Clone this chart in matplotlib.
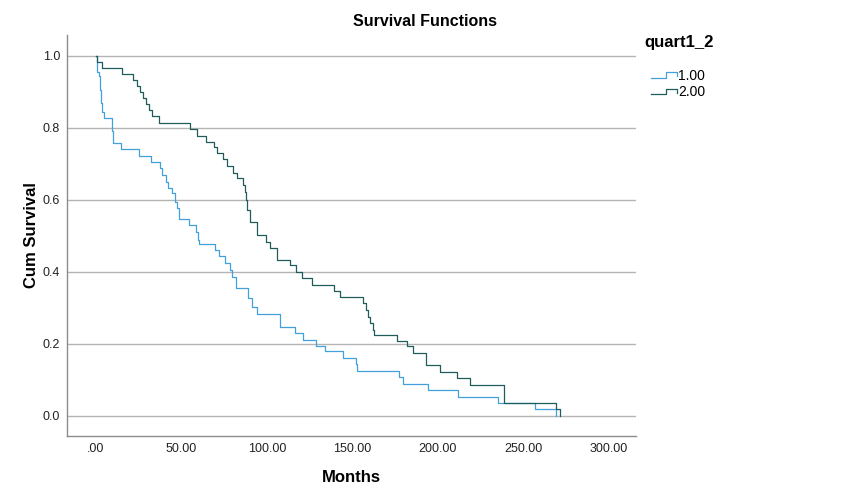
import matplotlib
matplotlib.use("Agg")
import matplotlib.pyplot as plt
from matplotlib.legend_handler import HandlerBase
from matplotlib.lines import Line2D

plt.rcParams['font.family'] = ['Liberation Sans', 'DejaVu Sans']

# group 1.00 - event times (months) and cumulative survival after each step
t1 = [0, 0.5, 1.5, 2.3, 2.7, 3.3, 4.6, 9.5, 10.2, 14.4, 25, 32, 37.4, 38.4, 41,
      42.3, 44.3, 46.2, 47.2, 48.7, 54.5, 58.5, 59.5, 60.5, 69.6, 72, 75.4, 78.4,
      79.4, 82.0, 89, 91, 94, 107.6, 116.4, 121, 128.7, 134.2, 144.6, 152, 153,
      177.4, 179.5, 194.3, 212, 235.3, 256.7, 269.4]
s1 = [1.0, 0.956, 0.943, 0.906, 0.868, 0.845, 0.827, 0.792, 0.757, 0.741, 0.722,
      0.704, 0.688, 0.669, 0.651, 0.632, 0.619, 0.595, 0.577, 0.546, 0.529, 0.51,
      0.49, 0.477, 0.462, 0.444, 0.426, 0.406, 0.387, 0.355, 0.327, 0.304, 0.283,
      0.248, 0.23, 0.211, 0.195, 0.18, 0.16, 0.143, 0.126, 0.109, 0.089, 0.072,
      0.054, 0.037, 0.019, 0.0]

# group 2.00
t2 = [0, 0.3, 3.5, 15, 21.5, 24, 26, 27.5, 29, 31, 33, 37, 55, 58.9, 64.2, 69,
      70.6, 74.5, 76.4, 80, 82.3, 86, 87, 88, 88.5, 90, 94, 99.4, 101.8, 106,
      113.5, 117, 120.3, 126.1, 139.2, 142.7, 156, 158, 159.3, 160.2, 161.8,
      162.6, 176.2, 182, 185.6, 193, 201.2, 211.3, 219, 238.6, 269, 271.3]
s2 = [1.0, 0.983, 0.967, 0.95, 0.933, 0.917, 0.9, 0.883, 0.867, 0.85, 0.833,
      0.813, 0.796, 0.778, 0.762, 0.746, 0.73, 0.713, 0.694, 0.676, 0.66, 0.642,
      0.623, 0.6, 0.572, 0.54, 0.503, 0.484, 0.466, 0.433, 0.419, 0.401, 0.382,
      0.364, 0.347, 0.33, 0.313, 0.294, 0.276, 0.257, 0.239, 0.225, 0.209, 0.193,
      0.174, 0.142, 0.123, 0.105, 0.086, 0.037, 0.019, 0.0]

groups = ['1.00', '2.00']
colors = ['#42a0dc', '#1f5c5c']
xticks = [0, 50, 100, 150, 200, 250, 300]
yticks = [0.0, 0.2, 0.4, 0.6, 0.8, 1.0]


class StepHandler(HandlerBase):
    # little step glyph like the SPSS legend
    def create_artists(self, legend, orig_handle, xdescent, ydescent,
                       width, height, fontsize, trans):
        lo = height * 0.2
        hi = height * 0.75
        xs = [0, width * 0.6, width * 0.6, width, width]
        ys = [lo, lo, hi, hi, lo + 1]
        ln = Line2D(xs, ys, color=orig_handle.get_color(), lw=0.9, transform=trans)
        return [ln]


fig = plt.figure(figsize=(8.5, 5), dpi=100)
ax = fig.add_axes([67 / 850, 64 / 500, 569 / 850, 401 / 500])

handles = []
for t, s, c, g in zip([t1, t2], [s1, s2], colors, groups):
    ln, = ax.step(t, s, where='post', color=c, lw=0.9, label=g)
    handles.append(ln)

ax.set_xlim(-17, 316)
ax.set_ylim(-0.0556, 1.058)
ax.set_xticks(xticks)
ax.set_xticklabels([('%.2f' % v).lstrip('0') if v == 0 else '%.2f' % v for v in xticks])
ax.set_yticks(yticks)
ax.set_yticklabels(['%.1f' % v for v in yticks])
ax.tick_params(length=0, labelsize=9, pad=5, colors='#222222')
ax.yaxis.grid(True, color='#b4b4b4', lw=1)
ax.set_axisbelow(True)
for sp in ['top', 'right']:
    ax.spines[sp].set_visible(False)
for sp in ['left', 'bottom']:
    ax.spines[sp].set_color('#8c8c8c')
    ax.spines[sp].set_linewidth(1)

ax.set_xlabel('Months', fontsize=12, fontweight='bold', labelpad=11)
ax.set_ylabel('Cum Survival', fontsize=12, fontweight='bold', labelpad=3)

fig.text(0.5, 1 - 21 / 500, 'Survival Functions', ha='center', va='center',
         fontsize=11.5, fontweight='bold')

# legend title sits well above the entries in the reference
fig.text(644 / 850, 1 - 43 / 500, 'quart1_2', ha='left', va='center',
         fontsize=12, fontweight='bold')
leg = fig.legend(handles=handles, labels=groups, loc='upper left',
                 bbox_to_anchor=(638 / 850, 1 - 56 / 500), frameon=False,
                 fontsize=10, handlelength=1.9,
                 handletextpad=0.1, labelspacing=0.2,
                 handler_map={Line2D: StepHandler()})

fig.savefig('out.png', dpi=100)
